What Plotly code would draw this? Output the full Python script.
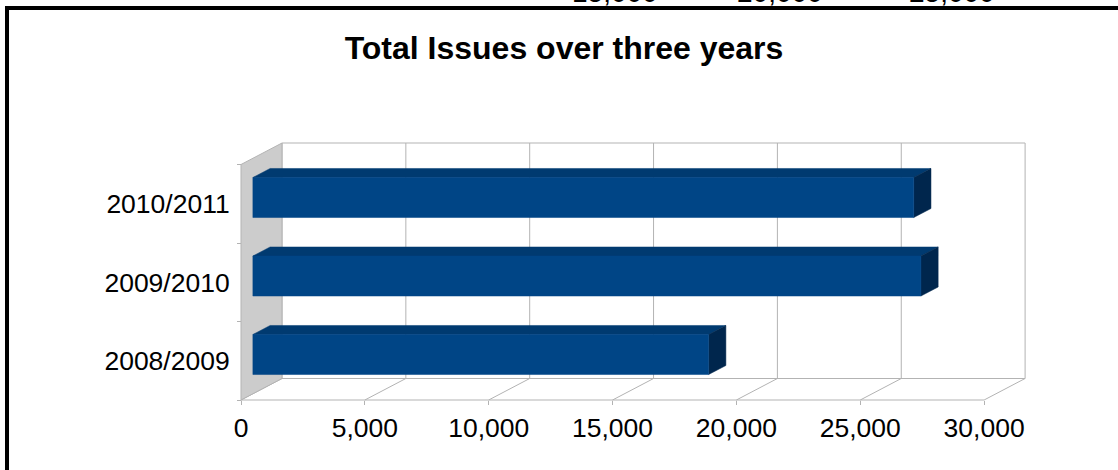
import plotly.graph_objects as go

# ---------------- data ----------------
categories = ["2008/2009", "2009/2010", "2010/2011"]
issues = [18400, 26970, 26680]
x_tick_values = [0, 5000, 10000, 15000, 20000, 25000, 30000]
x_tick_labels = ["0", "5,000", "10,000", "15,000", "20,000", "25,000", "30,000"]
top_cut_labels = ["15,000", "20,000", "25,000"]  # from a chart above, cut off at the top

# ---------------- geometry / style ----------------
W, H = 1118, 470
L_M, B_M = 221, 50                 # plot area margins (px)
X0_PX, PXU = 241, 0.02477          # front-plane x=0 pixel, px per value unit
Y0_PX, PYU = 400, 78.5             # front-plane y=-0.5 pixel, px per category unit
PLOT_W, PLOT_H = W - L_M, H - B_M
xmin = -(X0_PX - L_M) / PXU
xmax = xmin + PLOT_W / PXU
ymin = -0.5 - (PLOT_H - Y0_PX) / PYU
ymax = ymin + PLOT_H / PYU

DX = 41 / PXU      # depth offset in value units
DY = 21.5 / PYU    # depth offset in category units
F1, F2 = 0.29, 0.71  # bar depth fractions
HALF = 0.255         # half bar thickness (category units)
XMAX_VAL = x_tick_values[-1]
NCAT = len(categories)

FRONT = "#004586"
TOP = "#003a70"
SIDE = "#00264d"
WALL = "#cccccc"
GRID = "#b3b3b3"
FONT = "Liberation Sans, Arial, sans-serif"
LABEL_SIZE = 26.5

fig = go.Figure()

def poly(xs, ys, color, line_color=None, lw=0.5):
    fig.add_trace(go.Scatter(
        x=list(xs) + [xs[0]], y=list(ys) + [ys[0]], mode="lines", fill="toself",
        fillcolor=color, line=dict(color=line_color or color, width=lw),
        hoverinfo="skip", showlegend=False))

def lines(segs, color=GRID, width=1):
    xs, ys = [], []
    for (x0, y0, x1, y1) in segs:
        xs += [x0, x1, None]
        ys += [y0, y1, None]
    fig.add_trace(go.Scatter(x=xs, y=ys, mode="lines", line=dict(color=color, width=width),
                             hoverinfo="skip", showlegend=False))

ybot, ytop = -0.5, NCAT - 0.5

# floor and back wall lines
segs = []
for t in x_tick_values:
    segs.append((t, ybot, t + DX, ybot + DY))               # floor diagonals
    segs.append((t + DX, ybot + DY, t + DX, ytop + DY))      # back wall verticals
segs.append((0, ybot, XMAX_VAL, ybot))                       # front floor edge
segs.append((DX, ybot + DY, XMAX_VAL + DX, ybot + DY))       # back floor edge
segs.append((DX, ytop + DY, XMAX_VAL + DX, ytop + DY))       # back wall top
lines(segs)

# left wall
poly([0, 0, DX, DX], [ybot, ytop, ytop + DY, ybot + DY], WALL, GRID, 1)

# bars
for i, v in enumerate(issues):
    fx1, fy1 = F1 * DX, F1 * DY
    fx2, fy2 = F2 * DX, F2 * DY
    lo, hi = i - HALF, i + HALF
    # top face
    poly([fx1, v + fx1, v + fx2, fx2], [hi + fy1, hi + fy1, hi + fy2, hi + fy2], TOP)
    # right side face
    poly([v + fx1, v + fx2, v + fx2, v + fx1], [lo + fy1, lo + fy2, hi + fy2, hi + fy1], SIDE)
    # front face
    poly([fx1, v + fx1, v + fx1, fx1], [lo + fy1, lo + fy1, hi + fy1, hi + fy1], FRONT)

# clipped labels from the chart above (only their lower edge is visible)
top_x_px = [615, 780, 952]
for lab, px in zip(top_cut_labels, top_x_px):
    fig.add_annotation(text=lab, xref="paper", yref="paper",
                       x=(px - L_M) / PLOT_W, y=1 - 9.5 / PLOT_H,
                       xanchor="center", yanchor="bottom", showarrow=False,
                       font=dict(family=FONT, size=28, color="black"))

fig.update_layout(
    width=W, height=H,
    margin=dict(l=L_M, r=0, t=0, b=B_M, pad=0),
    paper_bgcolor="white", plot_bgcolor="white",
    title=dict(text="<b>Total Issues over three years</b>", x=564 / W, xref="container",
               y=1 - 48 / H, yref="container", xanchor="center", yanchor="middle",
               font=dict(family=FONT, size=32, color="black")),
    xaxis=dict(range=[xmin, xmax], anchor="free", position=(PLOT_H - Y0_PX) / PLOT_H,
               tickmode="array", tickvals=x_tick_values, ticktext=x_tick_labels,
               ticks="outside", ticklen=4, tickcolor=GRID, tickwidth=1,
               showgrid=False, zeroline=False, showline=False,
               tickfont=dict(family=FONT, size=LABEL_SIZE, color="black")),
    yaxis=dict(range=[ymin, ymax], anchor="free", position=(X0_PX - L_M) / PLOT_W,
               tickmode="array", tickvals=list(range(NCAT)), ticktext=categories,
               ticks="outside", ticklen=6, tickcolor="rgba(0,0,0,0)",
               minor=dict(tickmode="array", tickvals=[k - 0.5 for k in range(NCAT + 1)],
                          ticks="outside", ticklen=4, tickcolor=GRID, showgrid=False),
               showgrid=False, zeroline=False, showline=False,
               tickfont=dict(family=FONT, size=LABEL_SIZE, color="black")),
    shapes=[dict(type="rect", xref="paper", yref="paper",
                 x0=(7 - L_M) / PLOT_W, x1=1.2, y0=-0.5, y1=(PLOT_H - 8) / PLOT_H,
                 line=dict(color="black", width=4), fillcolor="rgba(0,0,0,0)", layer="above")],
)

fig.write_html("out.html")
